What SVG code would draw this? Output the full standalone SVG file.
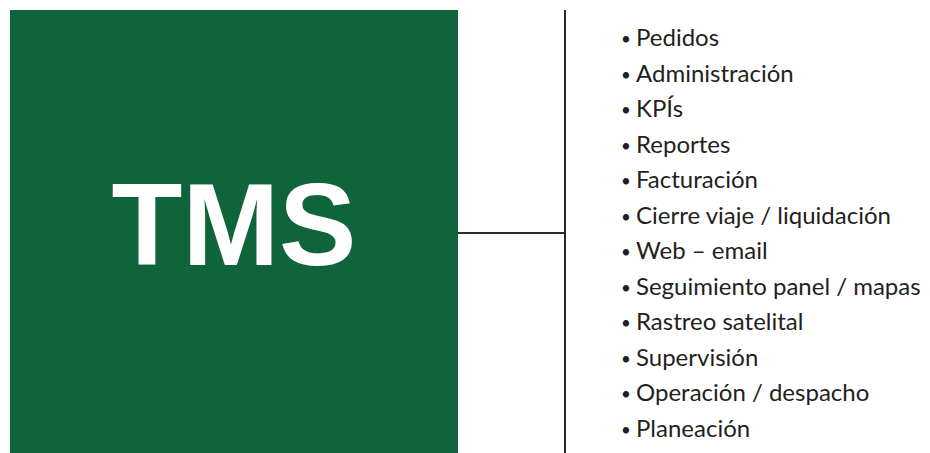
<svg xmlns="http://www.w3.org/2000/svg" width="930" height="453" viewBox="0 0 930 453">
<style>
.item{font-family:Lato,"Liberation Sans",sans-serif;font-size:24px;fill:#231f20}
.bul{font-family:Lato,"Liberation Sans",sans-serif;font-size:17px;fill:#231f20}
.ln{stroke:#2b2b2b;stroke-width:2;fill:none}
</style>
<rect width="930" height="453" fill="#ffffff"/>
<g id="tms">
<rect x="10" y="10" width="448" height="443" fill="#10643a"/>
<text x="234" y="265" text-anchor="middle" font-family="'Liberation Sans',Arial,sans-serif" font-weight="bold" font-size="116" fill="#ffffff">TMS</text>
</g>
<g id="connectors">
<line class="ln" x1="458" y1="233" x2="565" y2="233"/>
<line class="ln" x1="565" y1="10" x2="565" y2="453"/>
</g>
<g id="list">
<text class="bul" x="621" y="45">•</text><text class="item" x="636" y="46">Pedidos</text>
<text class="bul" x="621" y="80.5">•</text><text class="item" x="636" y="81.5">Administración</text>
<text class="bul" x="621" y="116">•</text><text class="item" x="636" y="117">KPÍs</text>
<text class="bul" x="621" y="151.5">•</text><text class="item" x="636" y="152.5">Reportes</text>
<text class="bul" x="621" y="187">•</text><text class="item" x="636" y="188">Facturación</text>
<text class="bul" x="621" y="222.5">•</text><text class="item" x="636" y="223.5">Cierre viaje / liquidación</text>
<text class="bul" x="621" y="258">•</text><text class="item" x="636" y="259">Web – email</text>
<text class="bul" x="621" y="293.5">•</text><text class="item" x="636" y="294.5">Seguimiento panel / mapas</text>
<text class="bul" x="621" y="329">•</text><text class="item" x="636" y="330">Rastreo satelital</text>
<text class="bul" x="621" y="364.5">•</text><text class="item" x="636" y="365.5">Supervisión</text>
<text class="bul" x="621" y="400">•</text><text class="item" x="636" y="401">Operación / despacho</text>
<text class="bul" x="621" y="435.5">•</text><text class="item" x="636" y="436.5">Planeación</text>
</g>
</svg>
